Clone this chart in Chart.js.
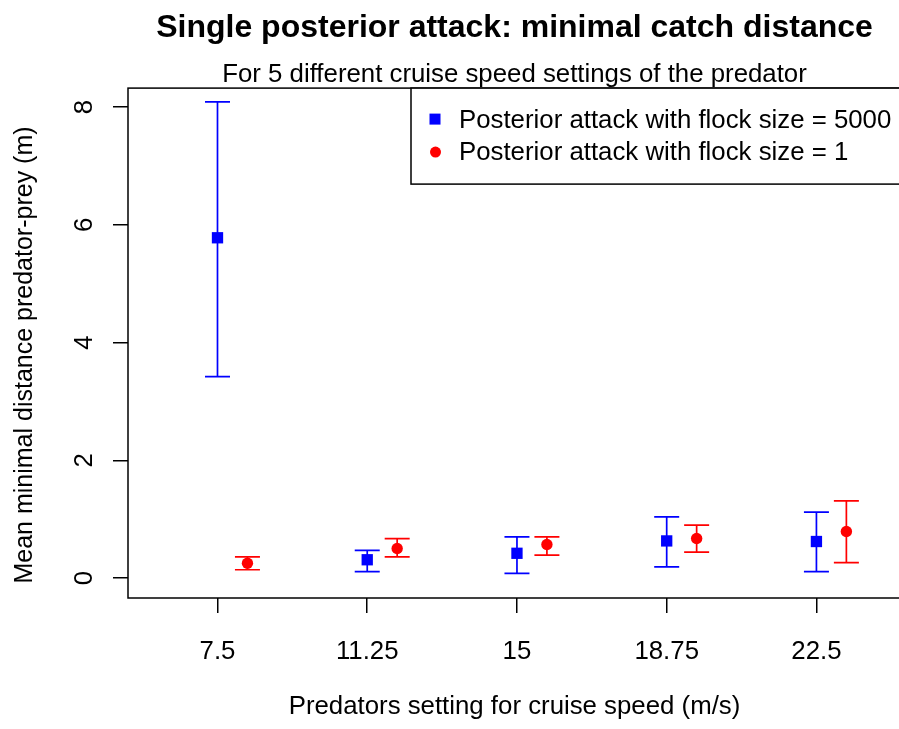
<!DOCTYPE html>
<html>
<head>
<meta charset="utf-8">
<script src="https://cdn.jsdelivr.net/npm/chart.js@4/dist/chart.umd.min.js"></script>
<style>
  html, body { margin: 0; padding: 0; background: #fff; overflow: hidden; }
  #c { position: absolute; left: 0; top: 0; }
</style>
</head>
<body>
<canvas id="c" width="901" height="729" style="width:901px;height:729px"></canvas>
<script>
// ---- data ----
const categories = [7.5, 11.25, 15, 18.75, 22.5];
const xTickLabels = ['7.5', '11.25', '15', '18.75', '22.5'];
const yTicks = [0, 2, 4, 6, 8];

const seriesNames = ['Posterior attack with flock size = 5000', 'Posterior attack with flock size = 1'];

const blueMean  = [5.78, 0.31, 0.42, 0.63, 0.62];
const blueLower = [3.42, 0.11, 0.08, 0.19, 0.11];
const blueUpper = [8.09, 0.47, 0.70, 1.04, 1.12];

const redMean  = [0.25, 0.50, 0.57, 0.67, 0.79];
const redLower = [0.14, 0.36, 0.39, 0.44, 0.26];
const redUpper = [0.36, 0.67, 0.70, 0.90, 1.31];

// ---- style ----
const FONT = "'Liberation Sans', Arial, Helvetica, sans-serif";
const BASE = 25.8;
const YTITLE_SIZE = 25;
const DODGE = 0.75;          // horizontal dodge of the second series (axis units)
const CAP_HALF = 12.5;       // half width of error-bar caps (px)

Chart.defaults.font.family = FONT;
Chart.defaults.color = '#000';

function mkData(offset, mean, lo, hi) {
  return categories.map((c, i) => ({ x: c + offset, y: mean[i], lo: lo[i], hi: hi[i] }));
}

const errorBars = {
  id: 'errorBars',
  beforeDatasetsDraw(chart) {
    const ctx = chart.ctx, xs = chart.scales.x, ys = chart.scales.y;
    ctx.save();
    chart.data.datasets.forEach(ds => {
      ctx.strokeStyle = ds.borderColor;
      ctx.lineWidth = 1.7;
      ds.data.forEach(p => {
        const px = xs.getPixelForValue(p.x);
        const y1 = ys.getPixelForValue(p.lo);
        const y2 = ys.getPixelForValue(p.hi);
        ctx.beginPath();
        ctx.moveTo(px, y1); ctx.lineTo(px, y2);
        ctx.moveTo(px - CAP_HALF, y1); ctx.lineTo(px + CAP_HALF, y1);
        ctx.moveTo(px - CAP_HALF, y2); ctx.lineTo(px + CAP_HALF, y2);
        ctx.stroke();
      });
    });
    ctx.restore();
  }
};

const frameAndLegend = {
  id: 'frameAndLegend',
  afterDraw(chart) {
    const ctx = chart.ctx, a = chart.chartArea;
    ctx.save();
    // plot box
    ctx.strokeStyle = '#000';
    ctx.lineWidth = 1.5;
    ctx.strokeRect(a.left, a.top, a.right - a.left, a.bottom - a.top);

    // legend box (top-right inside plot)
    const lx = 411, ly = a.top, lh = 96;
    ctx.fillStyle = '#fff';
    ctx.fillRect(lx, ly, a.right - lx + 2, lh);
    ctx.strokeRect(lx, ly, a.right - lx + 2, lh);

    const rows = [ly + 33, ly + 65];
    ctx.font = BASE + 'px ' + FONT;
    ctx.textBaseline = 'middle';
    ctx.textAlign = 'left';
    chart.data.datasets.forEach((ds, i) => {
      const cy = rows[i];
      ctx.fillStyle = ds.backgroundColor;
      if (ds.pointStyle === 'rect') {
        ctx.fillRect(435 - 5.5, cy - 2 - 5.5, 11, 11);
      } else {
        ctx.beginPath();
        ctx.arc(435.5, cy - 1, 5.5, 0, Math.PI * 2);
        ctx.fill();
      }
      ctx.fillStyle = '#000';
      ctx.fillText(ds.label, 459, cy);
    });

    // y axis title (rotated)
    ctx.save();
    ctx.translate(25, 355);
    ctx.rotate(-Math.PI / 2);
    ctx.textAlign = 'center';
    ctx.textBaseline = 'middle';
    ctx.font = YTITLE_SIZE + 'px ' + FONT;
    ctx.fillText('Mean minimal distance predator-prey (m)', 0, 0);
    ctx.restore();

    ctx.restore();
  }
};

new Chart(document.getElementById('c'), {
  type: 'scatter',
  data: {
    datasets: [
      {
        label: seriesNames[0],
        data: mkData(0, blueMean, blueLower, blueUpper),
        backgroundColor: '#0000ff',
        borderColor: '#0000ff',
        borderWidth: 0,
        pointStyle: 'rect',
        pointRadius: 8,
        pointHoverRadius: 8
      },
      {
        label: seriesNames[1],
        data: mkData(DODGE, redMean, redLower, redUpper),
        backgroundColor: '#ff0000',
        borderColor: '#ff0000',
        borderWidth: 0,
        pointStyle: 'circle',
        pointRadius: 5.7,
        pointHoverRadius: 5.7
      }
    ]
  },
  options: {
    responsive: false,
    maintainAspectRatio: false,
    devicePixelRatio: 1,
    animation: false,
    events: [],
    layout: { padding: 0, autoPadding: false },
    plugins: {
      legend: { display: false },
      tooltip: { enabled: false },
      title: {
        display: true,
        fullSize: false,
        text: 'Single posterior attack: minimal catch distance',
        font: { family: FONT, size: 32, weight: 'bold', lineHeight: 1.2 },
        color: '#000',
        padding: { top: 8.9, bottom: 0 }
      },
      subtitle: {
        display: true,
        fullSize: false,
        text: 'For 5 different cruise speed settings of the predator',
        font: { family: FONT, size: BASE, weight: 'normal', lineHeight: 1 },
        color: '#000',
        padding: { top: 15.0, bottom: 0 }
      }
    },
    scales: {
      x: {
        type: 'linear',
        min: 5.2586,
        max: 24.618,
        afterBuildTicks: s => { s.ticks = categories.map(v => ({ value: v })); },
        afterFit: s => { s.height = 131; s.paddingLeft = 0; s.paddingRight = 0; },
        grid: { display: true, drawOnChartArea: false, drawTicks: true, tickLength: 15, color: '#000', lineWidth: 1.5 },
        border: { display: false },
        ticks: {
          font: { size: BASE },
          color: '#000',
          padding: 23,
          maxRotation: 0,
          autoSkip: false,
          callback: (v, i) => xTickLabels[i]
        },
        title: {
          display: true,
          text: 'Predators setting for cruise speed (m/s)',
          font: { size: BASE, lineHeight: '36px' },
          color: '#000'
        }
      },
      y: {
        type: 'linear',
        min: -0.3397,
        max: 8.3227,
        afterBuildTicks: s => { s.ticks = yTicks.map(v => ({ value: v })); },
        afterFit: s => { s.width = 128; s.paddingTop = 0; s.paddingBottom = 0; },
        grid: { display: true, drawOnChartArea: false, drawTicks: true, tickLength: 15, color: '#000', lineWidth: 1.5 },
        border: { display: false },
        ticks: {
          font: { size: BASE },
          color: '#000',
          padding: 21,
          minRotation: 90,
          maxRotation: 90,
          crossAlign: 'center',
          autoSkip: false,
          callback: v => String(v)
        }
      }
    }
  },
  plugins: [errorBars, frameAndLegend]
});
</script>
</body>
</html>
